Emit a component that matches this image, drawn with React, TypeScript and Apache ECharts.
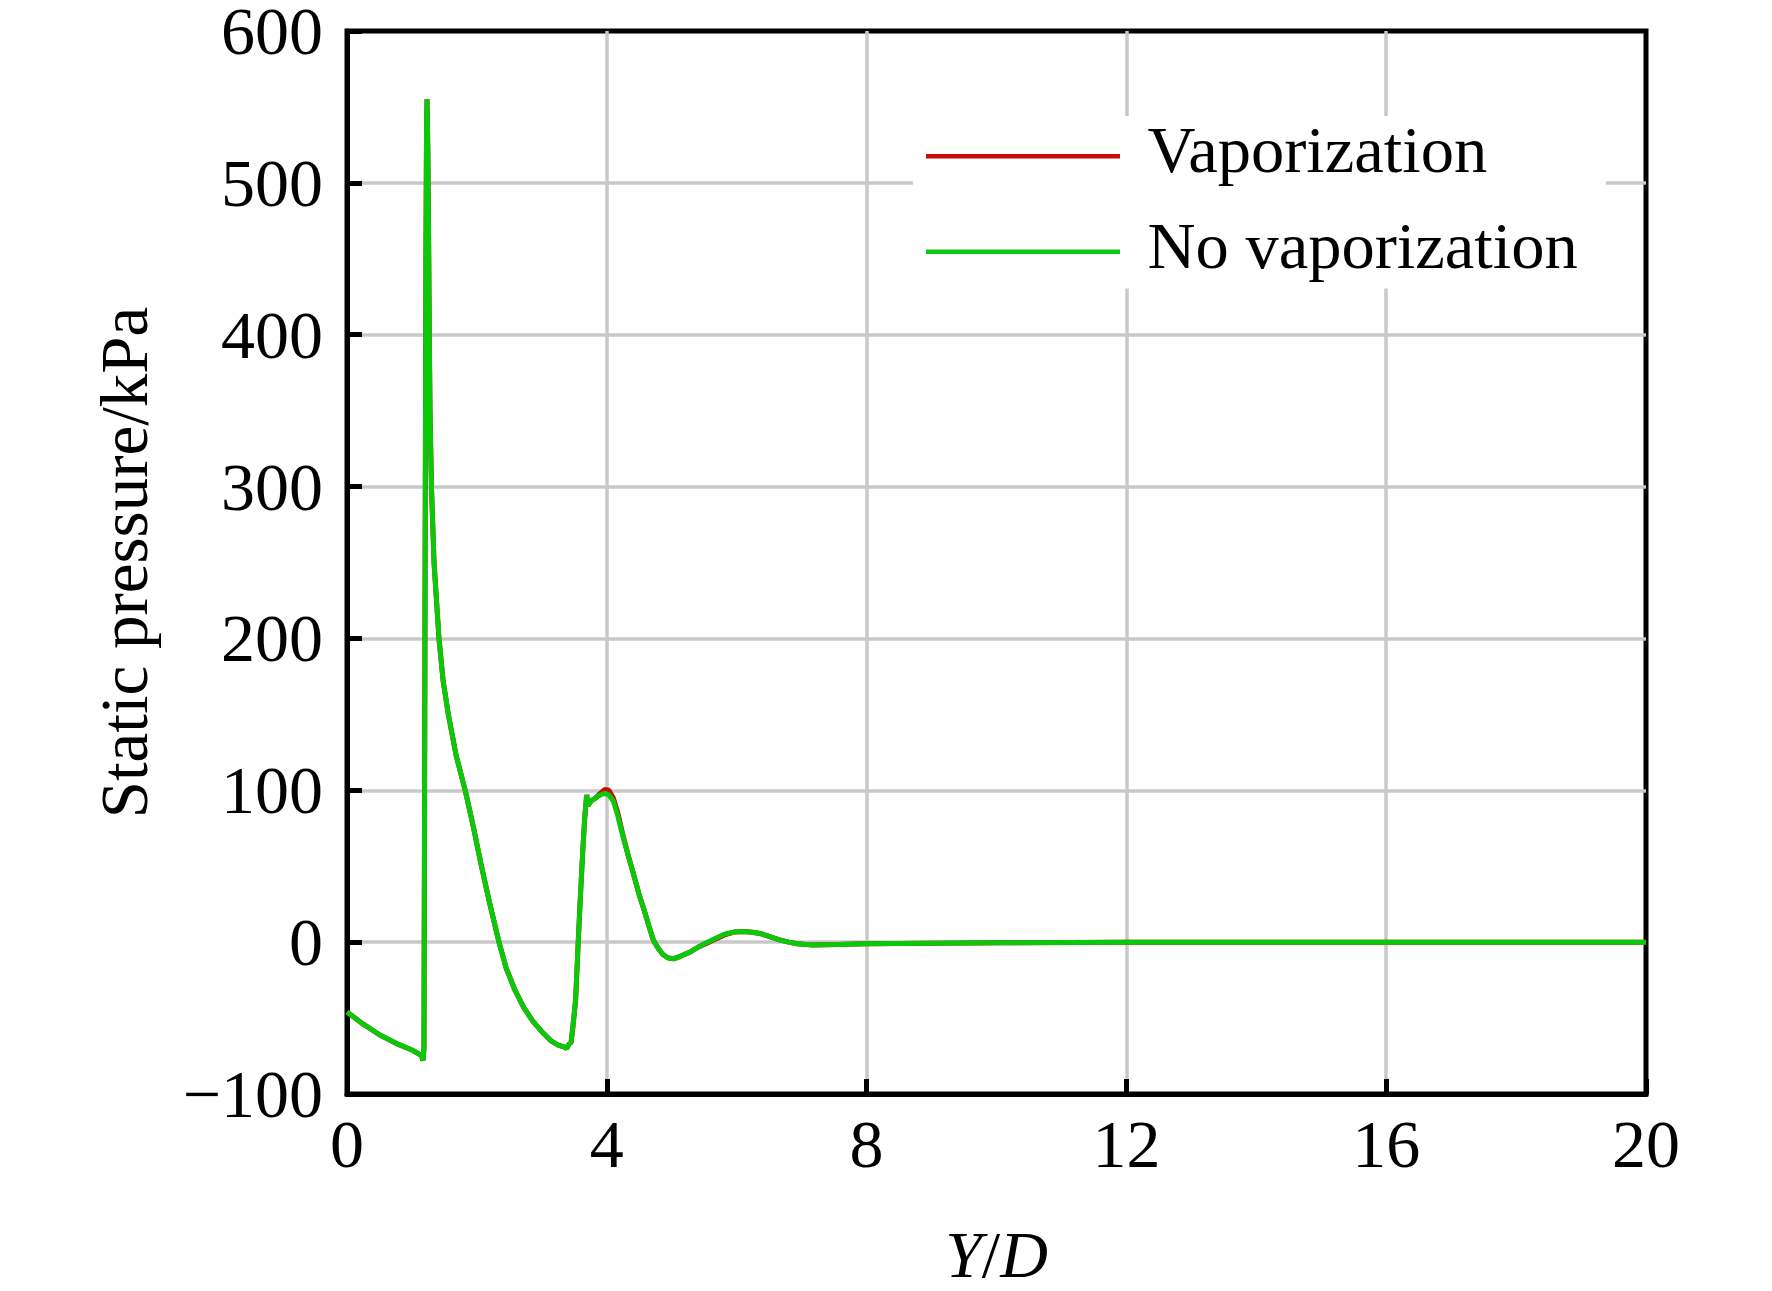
import React, { useEffect, useRef } from "react";
import * as echarts from "echarts";

const xTicks = [0, 4, 8, 12, 16, 20];
const yTicks = [-100, 0, 100, 200, 300, 400, 500, 600];

const xVals = [
  0, 0.25, 0.5, 0.8, 1.0, 1.1, 1.15, 1.17, 1.185, 1.2, 1.215, 1.225, 1.232, 1.245,
  1.257, 1.267, 1.278, 1.3, 1.34, 1.416, 1.48, 1.56, 1.68, 1.82, 1.95, 2.07, 2.2,
  2.34, 2.45, 2.59, 2.72, 2.86, 3.0, 3.14, 3.26, 3.34, 3.38, 3.42, 3.45, 3.48, 3.52,
  3.56, 3.59, 3.63, 3.66, 3.69, 3.71, 3.76, 3.83, 3.9, 3.97, 4.03, 4.1, 4.17, 4.24,
  4.33, 4.41, 4.5, 4.59, 4.66, 4.72, 4.79, 4.86, 4.95, 5.03, 5.15, 5.28, 5.42, 5.55,
  5.7, 5.83, 5.97, 6.1, 6.24, 6.38, 6.52, 6.66, 6.8, 6.93, 7.14, 7.55, 8.0, 9.0,
  10.1, 12, 14, 20,
];

const noVaporization = [
  -46, -54, -61, -67.5, -71, -73.5, -75, -78, -70, 200, 450, 540, 555, 520,
  460, 400, 350, 300, 250, 200, 172, 150, 123, 100, 75, 50, 25,
  0, -17, -32, -43, -52, -59, -65, -68, -69, -70, -67, -66, -55, -38,
  0, 27, 60, 82, 97, 90, 93, 95, 97, 98, 97, 93, 83, 71,
  57, 45, 31, 19, 9, 1, -4, -8, -10.5, -11, -9, -6.6, -3, 0,
  3, 5.5, 6.7, 7, 6.5, 5.5, 3.5, 1.5, 0, -1.1, -1.8, -1.5, -1.1, -0.7,
  -0.4, -0.1, 0, 0,
];

const vaporization = [
  -46, -54, -61, -67.5, -71, -73.5, -75, -78, -70, 200, 450, 540, 555, 520,
  460, 400, 350, 300, 250, 200, 172, 150, 123, 100, 75, 50, 25,
  0, -17, -32, -43, -52, -59, -65, -68, -69, -70, -67, -66, -55, -38,
  0, 27, 60, 82, 97, 90, 93, 95, 98, 100.5, 100, 95, 85, 72,
  57, 45, 31, 19, 9, 1, -4, -8, -10.5, -11, -9, -6.6, -3, -0.5,
  2.5, 5, 6.7, 7, 6.5, 5.5, 3.5, 1.5, 0, -1.1, -1.8, -1.5, -1.1, -0.7,
  -0.4, -0.1, 0, 0,
];

const seriesNames = ["Vaporization", "No vaporization"];
const seriesColors = ["#c80a0a", "#0ac80a"];

const FONT = "'Liberation Serif', 'Times New Roman', serif";

export default function App() {
  const ref = useRef<HTMLDivElement>(null);
  useEffect(() => {
    document.body.style.margin = "0";
    if (!ref.current) return;
    const chart = echarts.init(ref.current, undefined, { renderer: "svg" });
    const toPairs = (ys: number[]) => xVals.map((x, i) => [x, ys[i]]);
    chart.setOption({
      animation: false,
      backgroundColor: "#ffffff",
      grid: {
        left: 347,
        right: 126,
        top: 31,
        bottom: 197,
        show: true,
        borderColor: "#000",
        borderWidth: 5,
        backgroundColor: "transparent",
        outerBoundsMode: "none",
      },
      legend: {
        orient: "vertical",
        left: 913,
        top: 116,
        padding: [0, 28, 10, 13],
        backgroundColor: "#ffffff",
        icon: "rect",
        itemWidth: 194,
        itemHeight: 4.5,
        itemGap: 28.5,
        data: seriesNames,
        formatter: (name: string) => `{a|${name}}{b| }`,
        textStyle: {
          fontFamily: FONT,
          fontSize: 66.5,
          color: "#000",
          padding: [0, 0, 0, 22.5],
          rich: {
            a: {
              fontFamily: FONT,
              fontSize: 66.5,
              lineHeight: 66.5,
              color: "#000",
              verticalAlign: "top",
            },
            b: {
              fontFamily: FONT,
              fontSize: 1,
              lineHeight: 80.5,
              color: "#000",
            },
          },
        },
      },
      xAxis: {
        type: "value",
        min: xTicks[0],
        max: xTicks[xTicks.length - 1],
        interval: xTicks[1] - xTicks[0],
        name: "{i|Y}{n|/}{i|D}",
        nameLocation: "middle",
        nameGap: 127,
        nameTextStyle: {
          rich: {
            i: { fontFamily: FONT, fontSize: 66, fontStyle: "italic", color: "#000" },
            n: { fontFamily: FONT, fontSize: 66, color: "#000" },
          },
        },
        axisLine: { show: true, onZero: false, lineStyle: { color: "#000", width: 5 } },
        axisTick: { show: true, inside: true, length: 15, lineStyle: { color: "#000", width: 5 } },
        axisLabel: {
          fontFamily: FONT,
          fontSize: 68,
          color: "#000",
          margin: 16,
        },
        splitLine: {
          show: true,
          showMinLine: false,
          showMaxLine: false,
          lineStyle: { color: "#c8c8c8", width: 3.5 },
        },
      },
      yAxis: {
        type: "value",
        min: yTicks[0],
        max: yTicks[yTicks.length - 1],
        interval: yTicks[1] - yTicks[0],
        name: "Static pressure/kPa",
        nameLocation: "middle",
        nameGap: 190,
        nameTextStyle: { fontFamily: FONT, fontSize: 67, color: "#000" },
        axisLine: { show: true, onZero: false, lineStyle: { color: "#000", width: 5 } },
        axisTick: { show: true, inside: true, length: 15, lineStyle: { color: "#000", width: 5 } },
        axisLabel: {
          fontFamily: FONT,
          fontSize: 68,
          lineHeight: 56,
          color: "#000",
          margin: 24,
          formatter: (v: number) => String(v).replace("-", "\u2212"),
        },
        splitLine: {
          show: true,
          showMinLine: false,
          showMaxLine: false,
          lineStyle: { color: "#c8c8c8", width: 3.5 },
        },
      },
      series: [
        {
          name: seriesNames[0],
          type: "line",
          data: toPairs(vaporization),
          showSymbol: false,
          symbol: "none",
          color: seriesColors[0],
          itemStyle: { color: seriesColors[0] },
          lineStyle: { color: seriesColors[0], width: 5 },
        },
        {
          name: seriesNames[1],
          type: "line",
          data: toPairs(noVaporization),
          showSymbol: false,
          symbol: "none",
          color: seriesColors[1],
          itemStyle: { color: seriesColors[1] },
          lineStyle: { color: seriesColors[1], width: 5 },
        },
      ],
    });
    return () => chart.dispose();
  }, []);
  return <div ref={ref} style={{ width: 1772, height: 1291 }} />;
}
